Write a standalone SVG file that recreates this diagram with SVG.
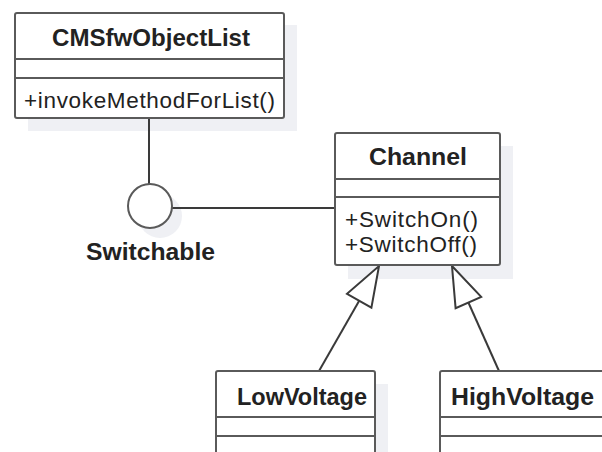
<svg xmlns="http://www.w3.org/2000/svg" width="602" height="452" viewBox="0 0 602 452">
<style>
.shadow{fill:#eff0f4;stroke:none}
.box{fill:#ffffff;stroke:#5a5a5a;stroke-width:2}
.div{stroke:#5a5a5a;stroke-width:2;fill:none}
.title{font-family:"Liberation Sans",Arial,sans-serif;font-weight:bold;font-size:24px;fill:#222;text-anchor:middle}
.op{font-family:"Liberation Sans",Arial,sans-serif;font-size:22.5px;fill:#222}
.conn{stroke:#3a3a3a;stroke-width:2;fill:none}
.gen{fill:#ffffff;stroke:#3a3a3a;stroke-width:2;stroke-linejoin:miter}
</style>
<rect width="602" height="452" fill="#ffffff"/>
<g id="shadows">
<rect class="shadow" x="28" y="25" width="269" height="106"/>
<rect class="shadow" x="348" y="146" width="165" height="133"/>
<rect class="shadow" x="229" y="384" width="159" height="68"/>
<rect class="shadow" x="453" y="384" width="149" height="68"/>
<circle class="shadow" cx="160" cy="216" r="22"/>
</g>
<g id="connectors">
<line class="conn" x1="149" y1="118" x2="149" y2="184"/>
<line class="conn" x1="172" y1="208" x2="335" y2="208"/>
<line class="conn" x1="319" y1="371" x2="359.2" y2="300.7"/>
<polygon class="gen" points="379,266 371.4,307.6 347,293.8"/>
<line class="conn" x1="499" y1="371" x2="468.4" y2="302.5"/>
<polygon class="gen" points="452,266 481.2,296.8 455.6,308.2"/>
</g>
<g id="CMSfwObjectList">
<rect class="box" x="15" y="13" width="269" height="105" rx="2"/>
<line class="div" x1="15" y1="59" x2="284" y2="59"/>
<line class="div" x1="15" y1="78" x2="284" y2="78"/>
<text class="title" x="151" y="46" textLength="198" lengthAdjust="spacingAndGlyphs">CMSfwObjectList</text>
<text class="op" x="24" y="108" textLength="251" lengthAdjust="spacing">+invokeMethodForList()</text>
</g>
<g id="Switchable">
<circle cx="150" cy="206" r="22" fill="#ffffff" stroke="#5a5a5a" stroke-width="2"/>
<text class="title" x="150.5" y="260" textLength="129" lengthAdjust="spacingAndGlyphs">Switchable</text>
</g>
<g id="Channel">
<rect class="box" x="335" y="133" width="165" height="132" rx="2"/>
<line class="div" x1="335" y1="179" x2="500" y2="179"/>
<line class="div" x1="335" y1="197" x2="500" y2="197"/>
<text class="title" x="418" y="165" textLength="98" lengthAdjust="spacingAndGlyphs">Channel</text>
<text class="op" x="345" y="227" textLength="133" lengthAdjust="spacing">+SwitchOn()</text>
<text class="op" x="345" y="252" textLength="132" lengthAdjust="spacing">+SwitchOff()</text>
</g>
<g id="LowVoltage">
<rect class="box" x="216" y="371" width="159" height="100" rx="2"/>
<line class="div" x1="216" y1="417" x2="375" y2="417"/>
<line class="div" x1="216" y1="436" x2="375" y2="436"/>
<text class="title" x="302" y="405" textLength="130" lengthAdjust="spacingAndGlyphs">LowVoltage</text>
</g>
<g id="HighVoltage">
<rect class="box" x="440" y="371" width="170" height="100" rx="2"/>
<line class="div" x1="440" y1="417" x2="610" y2="417"/>
<line class="div" x1="440" y1="436" x2="610" y2="436"/>
<text class="title" x="522.5" y="405" textLength="143" lengthAdjust="spacingAndGlyphs">HighVoltage</text>
</g>
</svg>
